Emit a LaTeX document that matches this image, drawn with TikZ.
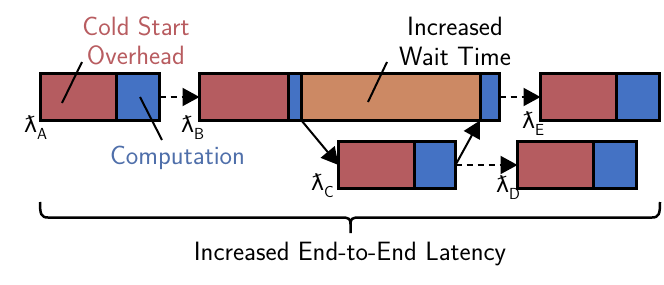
\documentclass[tikz,border=0pt]{standalone}
\usepackage{fontspec}
\newfontfamily\dejavu{DejaVu Sans}
\usetikzlibrary{arrows.meta}
\definecolor{cred}{HTML}{B55C60}
\definecolor{cblue}{HTML}{4472C4}
\definecolor{corange}{HTML}{CC8964}
\definecolor{tred}{HTML}{B85C60}
\definecolor{tblue}{HTML}{4F6FAA}
\newcommand{\lamlabel}[1]{{\dejavu\fontsize{22}{22}\selectfont ƛ}\raisebox{-7pt}{\sffamily\fontsize{16}{16}\selectfont #1}}
\begin{document}
\begin{tikzpicture}[x=1pt,y=-1pt,
  seg/.style={draw=black, line width=3pt, minimum height=47pt, inner sep=0pt, outer sep=0pt, anchor=north west},
  lbl/.style={font=\sffamily\fontsize{26.5}{29.5}\selectfont, inner sep=0pt, align=center},
  lam/.style={anchor=base west, inner sep=0pt},
  darrow/.style={line width=2pt, dash pattern=on 6pt off 5pt, -{Triangle[length=17pt,width=18pt]}},
  sarrow/.style={line width=2pt, -{Triangle[length=17pt,width=18pt]}},
  pointer/.style={line width=2pt},
  bracestyle/.style={line width=2.5pt},
]
\useasboundingbox (0,0) rectangle (664,284);
% boxes
\node[seg, fill=cred,    minimum width=75.5pt] (Ar)  at (40.5,73.5) {};
\node[seg, fill=cblue,   minimum width=43.5pt] (Ab)  at (116,73.5) {};
\node[seg, fill=cred,    minimum width=89pt]   (Br)  at (199.5,73.5) {};
\node[seg, fill=cblue,   minimum width=13pt]   (Bb1) at (288.5,73.5) {};
\node[seg, fill=corange, minimum width=178.5pt] (Bo) at (301.5,73.5) {};
\node[seg, fill=cblue,   minimum width=19.5pt] (Bb2) at (480,73.5) {};
\node[seg, fill=cred,    minimum width=75.5pt] (Cr)  at (338.5,141.5) {};
\node[seg, fill=cblue,   minimum width=41.5pt] (Cb)  at (414,141.5) {};
\node[seg, fill=cred,    minimum width=75.5pt] (Dr)  at (517.5,141.5) {};
\node[seg, fill=cblue,   minimum width=43.5pt] (Db)  at (593,141.5) {};
\node[seg, fill=cred,    minimum width=75.5pt] (Er)  at (540.5,73.5) {};
\node[seg, fill=cblue,   minimum width=43.5pt] (Eb)  at (616,73.5) {};
% connectors
\draw[darrow] (Ab.east) -- (Br.west);
\draw[sarrow] (Bb1.south east) -- (Cr.west);
\draw[sarrow] (Cb.east) -- (Bo.south east);
\draw[darrow] (Cb.east) -- (Dr.west);
\draw[darrow] (Bb2.east) -- (Er.west);
% labels
\node[lam] (lA) at (24,132) {\lamlabel{A}};
\node[lam] (lB) at (181,132) {\lamlabel{B}};
\node[lam] (lC) at (311,190) {\lamlabel{C}};
\node[lam] (lD) at (496,192) {\lamlabel{D}};
\node[lam] (lE) at (522,128) {\lamlabel{E}};
% annotations
\node[lbl, text=tred] (cold) at (136,41) {Cold Start\\Overhead};
\node[lbl] (wait) at (455,41.5) {Increased\\Wait Time};
\node[lbl, text=tblue, anchor=base] (comp) at (177.5,164) {Computation};
\node[lbl, anchor=base] (e2e) at (350,260) {Increased End-to-End Latency};
\coordinate (coldA) at (82,62);
\coordinate (coldB) at (62,103);
\coordinate (compA) at (140,97);
\coordinate (compB) at (162,140);
\coordinate (waitA) at (387,62);
\coordinate (waitB) at (368,102);
\draw[pointer] (coldA) -- (coldB);
\draw[pointer] (compA) -- (compB);
\draw[pointer] (waitA) -- (waitB);
% brace
\coordinate (brL) at (40,202);
\coordinate (brR) at (660,202);
\coordinate (brT) at (350.5,233);
\draw[bracestyle] (brL) .. controls (40,214) and (41,217.5) .. (48,217.5) -- (342,217.5) .. controls (349,217.5) and (350.5,219) .. (350.5,224) -- (brT);
\draw[bracestyle] (brR) .. controls (660,214) and (659,217.5) .. (652,217.5) -- (359,217.5) .. controls (352,217.5) and (350.5,219) .. (350.5,224);
\end{tikzpicture}
\end{document}
